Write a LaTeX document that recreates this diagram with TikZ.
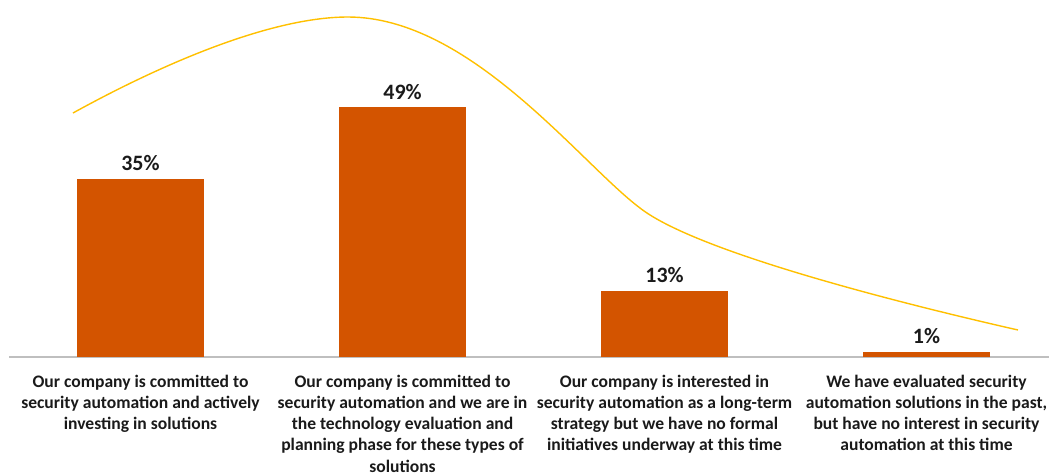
\documentclass[tikz,border=0pt]{standalone}
\usepackage{fontspec}
\setmainfont{Carlito}
\definecolor{barorange}{HTML}{D35400}
\definecolor{trendgold}{HTML}{FFC000}
\definecolor{axisgray}{HTML}{BFBFBF}
\definecolor{labelblack}{HTML}{1A1A1A}
\begin{document}
\begin{tikzpicture}[x=0.02cm,y=-0.02cm,
    bar/.style={fill=barorange,draw=none},
    pct/.style={font=\bfseries\fontsize{12.5}{15}\selectfont,text=labelblack,anchor=base,inner sep=0pt},
    cat/.style={font=\bfseries\fontsize{10}{12}\selectfont,text=labelblack,align=center,anchor=north,inner sep=0pt}]
    \useasboundingbox (0,0) rectangle (1049,474);
    \def\w{63.5};
    \def\pp{5.1};
    \coordinate (axisL) at (9,357);
    \coordinate (axisR) at (1049,357);
    \draw[axisgray,line width=0.9pt] (axisL) -- (axisR);
    \foreach \i/\c/\v in {1/140.5/35,2/402.5/49,3/664.5/13,4/926.5/1} {
        \coordinate (bot\i) at (\c-\w,357);
        \coordinate (top\i) at (\c+\w,357-\pp*\v);
        \fill[bar] (bot\i) rectangle (top\i);
        \node[pct] (pct\i) at (\c,357-\pp*\v-8) {\v\%};
      }
    \node[cat] (cat1) at (140.5,375) {Our company is committed to\\security automation and actively\\investing in solutions};
    \node[cat] (cat2) at (402.5,375) {Our company is committed to\\security automation and we are in\\the technology evaluation and\\planning phase for these types of\\solutions};
    \node[cat] (cat3) at (664.5,375) {Our company is interested in\\security automation as a long-term\\strategy but we have no formal\\initiatives underway at this time};
    \node[cat] (cat4) at (926.5,375) {We have evaluated security\\automation solutions in the past,\\but have no interest in security\\automation at this time};
    % trend line
    \coordinate (tStart) at (73,113);
    \coordinate (tPeak) at (348,17);
    \coordinate (tBend) at (640,208);
    \coordinate (tEnd) at (1018,330);
    \draw[trendgold,line width=0.8pt] (tStart) .. controls (160,65) and (270,17) .. (tPeak)
      .. controls (470,17) and (580,163) .. (tBend)
      .. controls (700,255) and (930,310) .. (tEnd);
  \end{tikzpicture}
\end{document}
